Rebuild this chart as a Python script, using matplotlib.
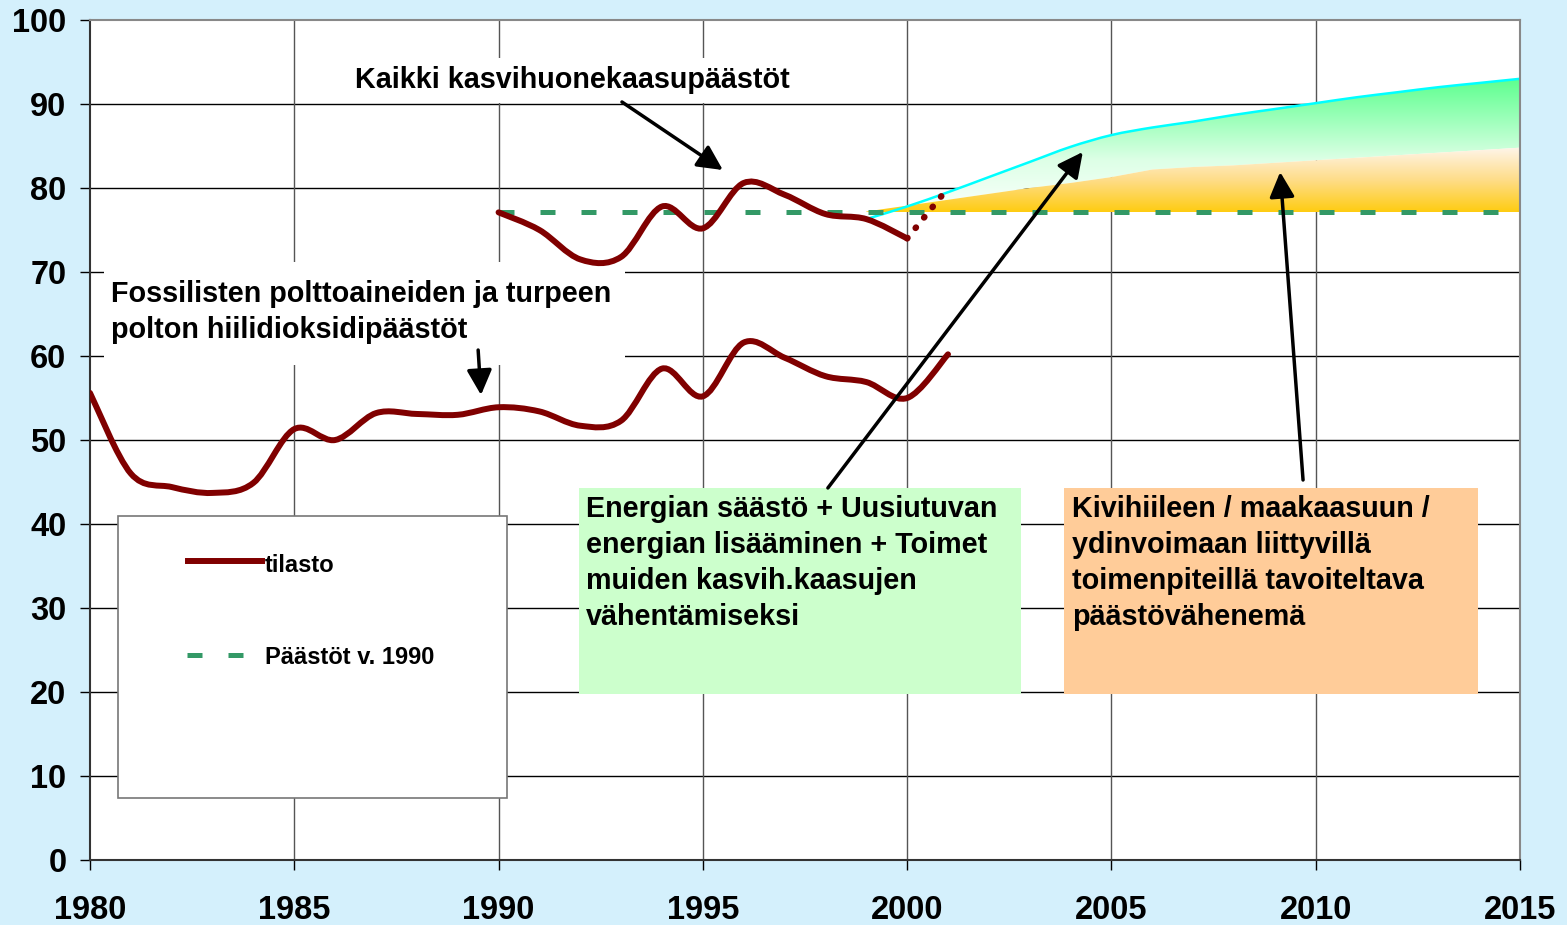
import numpy as np
import matplotlib
matplotlib.use('Agg')
import matplotlib.pyplot as plt
from matplotlib.path import Path
from matplotlib.patches import PathPatch, Rectangle
from matplotlib.colors import LinearSegmentedColormap

plt.rcParams['font.family'] = ['Liberation Sans', 'DejaVu Sans']
plt.rcParams['font.weight'] = 'bold'

# fossil fuel and peat CO2 emissions (Mt)
co2_years = list(range(1980, 2002))
co2_values = [55.6, 46.0, 44.4, 43.7, 44.9, 51.3, 50.0, 53.2, 53.1, 53.0, 53.9,
              53.4, 51.7, 52.3, 58.5, 55.2, 61.6, 59.8, 57.6, 56.9, 55.0, 60.2]

# all greenhouse gases
ghg_years = list(range(1990, 2001))
ghg_values = [77.1, 75.0, 71.5, 71.8, 77.8, 75.2, 80.6, 79.2, 76.9, 76.3, 74.0]
ghg_prelim_years = [2000, 2001]
ghg_prelim_values = [74.0, 80.0]

# 1990 level
level_years = [1990, 2015]
level_1990 = 77.1

# projections
proj_years = list(range(1999, 2016))
proj_upper = [76.3, 77.8, 79.5, 81.3, 83.1, 84.9, 86.3, 87.2, 87.9, 88.7, 89.4,
              90.1, 90.8, 91.4, 92.0, 92.5, 93.0]
proj_mid = [77.2, 77.9, 78.6, 79.3, 80.0, 80.6, 81.3, 82.2, 82.5, 82.7, 83.0,
            83.3, 83.6, 83.9, 84.2, 84.5, 84.8]

RED = '#800000'
GREEN = '#339966'
TXT = 20.7


def smooth_path(xs, ys):
    """Bezier path through the points, like a smoothed Excel line."""
    pts = np.column_stack([np.asarray(xs, float), np.asarray(ys, float)])
    n = len(pts)
    verts = [pts[0]]
    codes = [Path.MOVETO]
    for i in range(n - 1):
        p0 = pts[max(i - 1, 0)]
        p1 = pts[i]
        p2 = pts[i + 1]
        p3 = pts[min(i + 2, n - 1)]
        verts += [p1 + (p2 - p0) / 6, p2 - (p3 - p1) / 6, p2]
        codes += [Path.CURVE4] * 3
    return Path(verts, codes)


def gradient_fill(ax, x, lower, upper, stops):
    poly = ax.fill_between(x, lower, upper, facecolor='none', edgecolor='none')
    cmap = LinearSegmentedColormap.from_list('grad', stops)
    grad = np.linspace(0, 1, 256).reshape(-1, 1)
    ymin = min(np.min(lower), np.min(upper))
    ymax = max(np.max(lower), np.max(upper))
    im = ax.imshow(grad, cmap=cmap, aspect='auto', origin='lower',
                   extent=[x[0], x[-1], ymin, ymax], zorder=1.5,
                   interpolation='bilinear')
    im.set_clip_path(poly.get_paths()[0], transform=ax.transData)


fig = plt.figure(figsize=(15.67, 9.25), dpi=100)
fig.patch.set_facecolor('#D4F0FC')
ax = fig.add_axes([90 / 1567, 65 / 925, 1430 / 1567, 840 / 925])
ax.set_facecolor('white')

# grid
for y in range(10, 100, 10):
    ax.axhline(y, color='black', lw=1.0, zorder=0.5)
for x in range(1985, 2015, 5):
    ax.axvline(x, color='#555555', lw=1.0, zorder=0.5)

# projection areas
gradient_fill(ax, proj_years, proj_mid, proj_upper,
              [(0, '#FFFFFF'), (0.42, '#DDFFE6'), (1, '#5CFF8E')])
gradient_fill(ax, proj_years, [level_1990] * len(proj_years), proj_mid,
              [(0, '#FFCC11'), (0.5, '#FEDD8A'), (1, '#FFF5EA')])
ax.add_patch(PathPatch(smooth_path(proj_years, proj_upper), fill=False,
                       edgecolor='#00FFFF', lw=1.8, zorder=2))

# 1990 level
ax.plot(level_years, [level_1990] * 2, color=GREEN, lw=3.6,
        dashes=(3, 5.2), solid_capstyle='butt', dash_capstyle='butt', zorder=2.2)

# statistics
ax.add_patch(PathPatch(smooth_path(co2_years, co2_values), fill=False,
                       edgecolor=RED, lw=4.3, capstyle='round', zorder=3))
ax.add_patch(PathPatch(smooth_path(ghg_years, ghg_values), fill=False,
                       edgecolor=RED, lw=4.3, capstyle='round', zorder=3))
ax.plot(ghg_prelim_years, ghg_prelim_values, color=RED, lw=4.6,
        linestyle=(0, (0.1, 2.0)), dash_capstyle='round', zorder=3)

# white label boxes
ax.add_patch(Rectangle((1986.24, 90.1), 11.14, 5.4, facecolor='white',
                       edgecolor='none', zorder=1))
ax.add_patch(Rectangle((1980.34, 58.9), 12.75, 12.3, facecolor='white',
                       edgecolor='none', zorder=1))
ax.text(1991.81, 92.86, 'Kaikki kasvihuonekaasupäästöt', fontsize=TXT,
        ha='center', va='center', zorder=4)
ax.text(1980.51, 69.05, 'Fossilisten polttoaineiden ja turpeen\npolton hiilidioksidipäästöt',
        fontsize=TXT, ha='left', va='top', linespacing=1.35, zorder=4)

# coloured text boxes
ax.add_patch(Rectangle((1991.97, 19.76), 10.82, 24.53, facecolor='#CCFFCC',
                       edgecolor='none', zorder=4))
ax.text(1992.14, 43.4, 'Energian säästö + Uusiutuvan\nenergian lisääminen + Toimet\n'
        'muiden kasvih.kaasujen\nvähentämiseksi', fontsize=TXT, ha='left', va='top',
        linespacing=1.35, zorder=5)
ax.add_patch(Rectangle((2003.84, 19.76), 10.13, 24.53, facecolor='#FFCC99',
                       edgecolor='none', zorder=4))
ax.text(2004.03, 43.4, 'Kivihiileen / maakaasuun /\nydinvoimaan liittyvillä\n'
        'toimenpiteillä tavoiteltava\npäästövähenemä', fontsize=TXT, ha='left',
        va='top', linespacing=1.35, zorder=5)

# arrows
arrows = [((1993.02, 90.24), (1995.49, 82.14)),
          ((1998.06, 44.29), (2004.30, 84.29)),
          ((2009.69, 45.24), (2009.13, 81.90)),
          ((1989.50, 60.71), (1989.57, 55.36))]
for start, end in arrows:
    ax.annotate('', xy=end, xytext=start, zorder=6,
                arrowprops=dict(arrowstyle='-|>', lw=2.5, color='black',
                                mutation_scale=38, shrinkA=0, shrinkB=0))

# legend
ax.add_patch(Rectangle((1980.68, 7.38), 9.53, 33.57, facecolor='white',
                       edgecolor='#777777', lw=1.2, zorder=4))
ax.plot([1982.40, 1984.21], [35.6, 35.6], color=RED, lw=4.3, zorder=5)
ax.text(1984.28, 35.0, 'tilasto', fontsize=17, ha='left', va='center', zorder=5)
ax.plot([1982.37, 1983.77], [24.4, 24.4], color=GREEN, lw=3.6,
        dashes=(3, 5.2), zorder=5)
ax.text(1984.28, 24.1, 'Päästöt v. 1990', fontsize=17, ha='left', va='center', zorder=5)

ax.set_xlim(1980, 2015)
ax.set_ylim(0, 100)
ax.set_xticks(range(1980, 2016, 5))
ax.set_yticks(range(0, 101, 10))
ax.tick_params(axis='both', labelsize=23.5, length=7, width=1.0, direction='out')
ax.tick_params(axis='x', pad=18)
ax.tick_params(axis='y', pad=10)
for lab in ax.get_xticklabels() + ax.get_yticklabels():
    lab.set_fontweight('bold')
ax.spines['left'].set_color('#333333')
ax.spines['left'].set_linewidth(1.5)
ax.spines['bottom'].set_color('#333333')
ax.spines['bottom'].set_linewidth(1.5)
ax.spines['top'].set_color('#888888')
ax.spines['top'].set_linewidth(1.5)
ax.spines['right'].set_color('#888888')
ax.spines['right'].set_linewidth(1.5)

fig.savefig('out.png', dpi=100, facecolor=fig.get_facecolor())
